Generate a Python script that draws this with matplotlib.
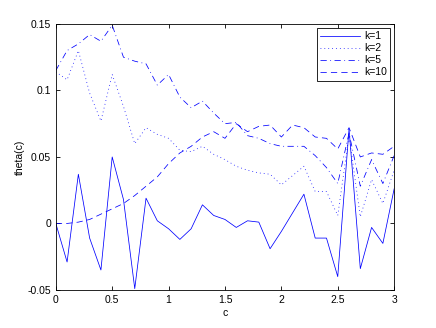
import numpy as np
import matplotlib
matplotlib.use("Agg")
import matplotlib.pyplot as plt

plt.rcParams["font.family"] = ["Liberation Sans", "DejaVu Sans"]
plt.rcParams["lines.scale_dashes"] = False

# c = 0, 0.1, ..., 3
c = np.round(np.arange(31) * 0.1, 1)

k1 = [0.000, -0.029, 0.037, -0.011, -0.035, 0.050, 0.018, -0.049, 0.019, 0.002,
      -0.004, -0.012, -0.004, 0.014, 0.006, 0.003, -0.003, 0.002, 0.001, -0.019,
      -0.006, 0.008, 0.022, -0.011, -0.011, -0.040, 0.071, -0.034, -0.003, -0.015,
      0.026]
k2 = [0.114, 0.108, 0.130, 0.098, 0.077, 0.112, 0.088, 0.060, 0.072, 0.067,
      0.064, 0.055, 0.054, 0.058, 0.052, 0.048, 0.043, 0.040, 0.038, 0.037,
      0.029, 0.036, 0.043, 0.024, 0.024, 0.006, 0.066, 0.005, 0.033, 0.015,
      0.040]
k5 = [0.115, 0.130, 0.135, 0.142, 0.137, 0.149, 0.125, 0.122, 0.120, 0.104,
      0.112, 0.095, 0.087, 0.092, 0.083, 0.075, 0.076, 0.066, 0.064, 0.060,
      0.058, 0.058, 0.058, 0.051, 0.042, 0.030, 0.068, 0.028, 0.048, 0.030,
      0.051]
k10 = [0.000, 0.000, 0.001, 0.003, 0.007, 0.011, 0.015, 0.021, 0.028, 0.035,
       0.045, 0.053, 0.058, 0.065, 0.069, 0.064, 0.075, 0.069, 0.073, 0.074,
       0.065, 0.074, 0.072, 0.065, 0.064, 0.056, 0.072, 0.050, 0.053, 0.052,
       0.058]

# matlab-ish dash patterns (points, unscaled)
series = [(k1, "-", "k=1"), (k2, (0, (0.6, 2.2)), "k=2"),
          (k5, (0, (4.5, 2.5, 0.6, 2.5)), "k=5"), (k10, (0, (4.5, 3)), "k=10")]

fig = plt.figure(figsize=(4.36, 3.28), dpi=100)
ax = fig.add_axes([0.128, 0.116, 0.776, 0.811])
for y, ls, lab in series:
    ax.plot(c, y, linestyle=ls, color="#0000ff", lw=0.55, label=lab)

ax.set_xlim(0, 3)
ax.set_ylim(-0.05, 0.15)
ax.set_xticks([0, 0.5, 1, 1.5, 2, 2.5, 3])
ax.set_xticklabels(["0", "0.5", "1", "1.5", "2", "2.5", "3"])
ax.set_yticks([-0.05, 0, 0.05, 0.1, 0.15])
ax.set_yticklabels(["-0.05", "0", "0.05", "0.1", "0.15"])
ax.tick_params(direction="in", top=True, right=True, labelsize=7.5, length=3, width=0.6)
for s in ax.spines.values():
    s.set_linewidth(0.6)
ax.set_xlabel("c", fontsize=7.5, labelpad=2)
ax.set_ylabel("theta(c)", fontsize=7.5, labelpad=2)

leg = ax.legend(loc="upper right", fontsize=7.5, fancybox=False, edgecolor="black",
                framealpha=1, handlelength=3.8, borderaxespad=0.4, labelspacing=0.2,
                handletextpad=0.4, borderpad=0.3)
leg.get_frame().set_linewidth(0.6)

fig.savefig("out.png", dpi=100)
